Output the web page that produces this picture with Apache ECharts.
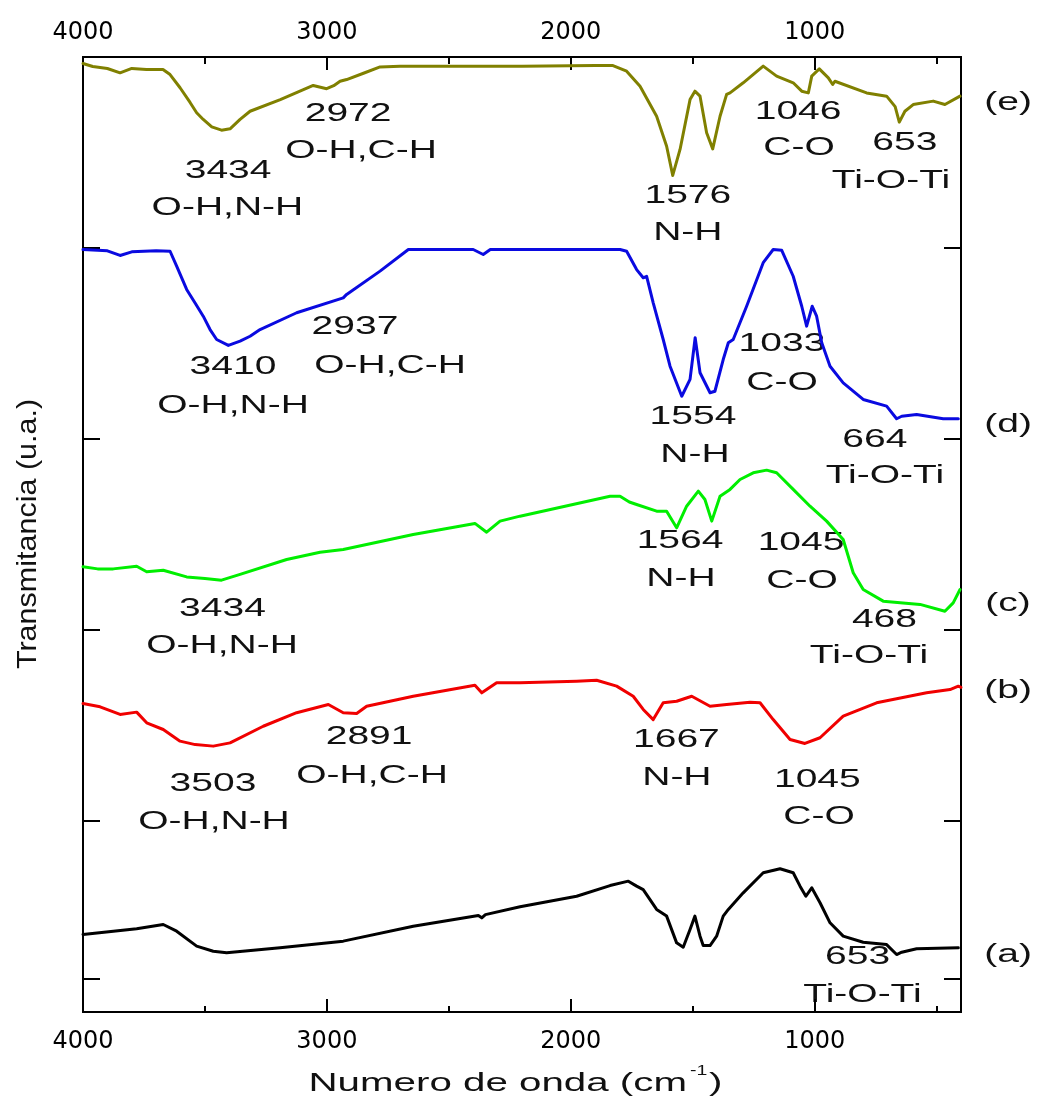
<!DOCTYPE html>
<html><head><meta charset="utf-8">
<script src="https://cdn.jsdelivr.net/npm/echarts@6/dist/echarts.min.js"></script>
<style>html,body{margin:0;padding:0;background:#fff}#c{width:1039px;height:1106px}</style>
</head><body><div id="c"></div>
<script>
// ---- data (wavenumber cm-1, transmittance in arbitrary offset units) ----
const majorTicks = [4000, 3000, 2000, 1000];
const minorTicks = [3500, 2500, 1500, 500];
const yTicks = [0.175, 1, 2, 3, 4];

const sampleE = [[4000,4.966],[3960,4.95],[3900,4.94],[3848,4.917],[3800,4.94],[3740,4.935],[3672,4.935],[3643,4.908],[3602,4.839],[3561,4.762],[3534,4.708],[3507,4.673],[3472,4.634],[3432,4.617],[3397,4.624],[3356,4.673],[3315,4.716],[3191,4.777],[3056,4.851],[3001,4.834],[2972,4.85],[2946,4.873],[2919,4.882],[2850,4.915],[2782,4.948],[2700,4.952],[2400,4.952],[2200,4.952],[1900,4.955],[1827,4.955],[1771,4.926],[1716,4.847],[1648,4.690],[1607,4.533],[1582,4.380],[1552,4.516],[1511,4.777],[1491,4.821],[1470,4.795],[1443,4.603],[1418,4.519],[1388,4.690],[1361,4.804],[1347,4.812],[1293,4.865],[1211,4.952],[1156,4.900],[1088,4.865],[1053,4.821],[1026,4.812],[1012,4.900],[981,4.938],[944,4.891],[926,4.856],[917,4.873],[787,4.812],[705,4.795],[670,4.74],[653,4.659],[630,4.716],[596,4.751],[514,4.769],[466,4.751],[404,4.795]];

const sampleD = [[4000,3.992],[3900,3.985],[3848,3.961],[3800,3.98],[3700,3.985],[3643,3.983],[3616,3.905],[3575,3.783],[3541,3.713],[3507,3.643],[3479,3.573],[3452,3.521],[3404,3.490],[3356,3.512],[3315,3.538],[3274,3.573],[3124,3.661],[2933,3.739],[2919,3.757],[2782,3.879],[2666,3.992],[2400,3.992],[2359,3.966],[2330,3.992],[1798,3.992],[1771,3.983],[1730,3.887],[1703,3.844],[1689,3.852],[1662,3.713],[1621,3.521],[1593,3.381],[1545,3.224],[1511,3.312],[1490,3.53],[1470,3.347],[1429,3.242],[1409,3.250],[1375,3.416],[1354,3.504],[1334,3.521],[1279,3.695],[1211,3.923],[1170,3.992],[1135,3.988],[1088,3.852],[1053,3.695],[1033,3.591],[1010,3.695],[992,3.643],[971,3.504],[937,3.381],[883,3.294],[801,3.207],[705,3.172],[664,3.106],[643,3.119],[582,3.128],[473,3.106],[411,3.106]];

const sampleC = [[4000,2.331],[3940,2.32],[3876,2.320],[3780,2.334],[3739,2.305],[3671,2.313],[3575,2.278],[3500,2.27],[3432,2.261],[3356,2.291],[3165,2.369],[3028,2.407],[2933,2.421],[2646,2.500],[2393,2.558],[2345,2.512],[2290,2.570],[2208,2.596],[1839,2.700],[1798,2.70],[1760,2.67],[1730,2.657],[1648,2.622],[1607,2.622],[1566,2.535],[1525,2.648],[1477,2.727],[1450,2.683],[1422,2.570],[1388,2.700],[1347,2.736],[1306,2.788],[1252,2.823],[1197,2.837],[1156,2.823],[1088,2.736],[1019,2.648],[951,2.570],[883,2.474],[842,2.300],[801,2.212],[719,2.151],[568,2.134],[466,2.098],[432,2.142],[404,2.212]];

const sampleB = [[4000,1.615],[3930,1.598],[3848,1.558],[3780,1.570],[3739,1.514],[3671,1.479],[3602,1.418],[3540,1.40],[3466,1.392],[3397,1.409],[3261,1.496],[3124,1.567],[2994,1.610],[2933,1.567],[2878,1.563],[2837,1.601],[2646,1.653],[2393,1.711],[2365,1.671],[2304,1.724],[2208,1.724],[1976,1.732],[1894,1.737],[1812,1.706],[1744,1.653],[1703,1.584],[1662,1.531],[1621,1.619],[1566,1.627],[1504,1.653],[1429,1.601],[1361,1.610],[1265,1.622],[1224,1.619],[1170,1.531],[1101,1.427],[1040,1.406],[978,1.436],[883,1.549],[746,1.619],[541,1.671],[445,1.688],[411,1.706],[400,1.70]];

const sampleA = [[4000,0.406],[3780,0.436],[3671,0.458],[3616,0.423],[3534,0.345],[3466,0.318],[3411,0.310],[3192,0.336],[2933,0.371],[2646,0.449],[2379,0.505],[2365,0.493],[2350,0.51],[2208,0.551],[1976,0.606],[1839,0.662],[1764,0.685],[1730,0.659],[1703,0.641],[1648,0.537],[1607,0.502],[1566,0.362],[1539,0.339],[1511,0.432],[1491,0.502],[1470,0.397],[1457,0.348],[1429,0.348],[1402,0.397],[1375,0.502],[1354,0.537],[1293,0.624],[1211,0.729],[1142,0.750],[1088,0.729],[1060,0.659],[1036,0.606],[1012,0.650],[978,0.572],[937,0.467],[883,0.397],[801,0.365],[705,0.353],[664,0.301],[643,0.313],[582,0.331],[411,0.336]];

// peak annotations: [text, wavenumber, value]
const annotations = [
  ['2972',2913,4.702],['O-H,C-H',2860,4.510],['3434',3405,4.406],['O-H,N-H',3408,4.212],
  ['1576',1520,4.275],['N-H',1520,4.081],['1046',1068,4.715],['C-O',1064,4.526],
  ['653',630,4.552],['Ti-O-Ti',687,4.353],
  ['3410',3385,3.380],['O-H,N-H',3385,3.175],['2937',2885,3.589],['O-H,C-H',2741,3.385],
  ['1554',1499,3.118],['N-H',1491,2.919],['1033',1134,3.500],['C-O',1134,3.296],
  ['664',753,2.997],['Ti-O-Ti',712,2.809],
  ['3434',3428,2.113],['O-H,N-H',3430,1.916],['1564',1552,2.469],['N-H',1548,2.270],
  ['1045',1056,2.458],['C-O',1052,2.259],['468',714,2.055],['Ti-O-Ti',777,1.866],
  ['3503',3467,1.196],['O-H,N-H',3463,0.995],['2891',2827,1.442],['O-H,C-H',2815,1.238],
  ['1667',1567,1.427],['N-H',1565,1.228],['1045',989,1.217],['C-O',982,1.024],
  ['653',824,0.291],['Ti-O-Ti',804,0.092]
];
const sampleLabels = [['(e)',207,4.762],['(d)',207,3.076],['(c)',207,2.139],['(b)',207,1.683],['(a)',207,0.301]];

const samples = [
  {name:'(e)', data:sampleE, color:'#808000'},
  {name:'(d)', data:sampleD, color:'#0a0ae0'},
  {name:'(c)', data:sampleC, color:'#00ee00'},
  {name:'(b)', data:sampleB, color:'#f00000'},
  {name:'(a)', data:sampleA, color:'#000000'}
];

// ---- chart ----
const chart = echarts.init(document.getElementById('c'), null, {renderer:'canvas'});
const axisLine = {show:true, onZero:false, lineStyle:{color:'#000', width:2}};
const tickStyle = {color:'#000', width:2};
const labelStyle = {color:'#000', fontFamily:'DejaVu Sans', fontSize:24, formatter: v => String(v)};
const xBase = {type:'value', min:400, max:4000, inverse:true, splitLine:{show:false}, axisLine};

const option = {
  animation:false,
  backgroundColor:'#fff',
  grid:{left:83, right:78, top:57, bottom:94, outerBoundsMode:'none', containLabel:false},
  xAxis:[
    Object.assign({}, xBase, {position:'bottom', axisTick:{inside:true, length:13, customValues:majorTicks, lineStyle:tickStyle}, axisLabel:Object.assign({customValues:majorTicks, margin:18}, labelStyle)}),
    Object.assign({}, xBase, {position:'bottom', axisTick:{inside:true, length:6, customValues:minorTicks, lineStyle:tickStyle}, axisLabel:{show:false}}),
    Object.assign({}, xBase, {position:'top', axisTick:{inside:true, length:13, customValues:majorTicks, lineStyle:tickStyle}, axisLabel:Object.assign({customValues:majorTicks, margin:12}, labelStyle)}),
    Object.assign({}, xBase, {position:'top', axisTick:{inside:true, length:7, customValues:minorTicks, lineStyle:tickStyle}, axisLabel:{show:false}})
  ],
  yAxis:[
    {type:'value', min:0, max:5, position:'left', axisLine, splitLine:{show:false}, axisTick:{inside:true, length:17, customValues:yTicks, lineStyle:tickStyle}, axisLabel:{show:false}},
    {type:'value', min:0, max:5, position:'right', axisLine, splitLine:{show:false}, axisTick:{inside:true, length:17, customValues:yTicks, lineStyle:tickStyle}, axisLabel:{show:false}}
  ],
  series: samples.map(s => ({
    type:'line', name:s.name, data:s.data, xAxisIndex:0, yAxisIndex:0,
    showSymbol:false, symbol:'none', smooth:false, clip:true,
    lineStyle:{color:s.color, width:3, join:'round', cap:'round'}, itemStyle:{color:s.color}
  }))
};
chart.setOption(option);

const font = 'Liberation Sans, Arial, sans-serif';
const graphics = [];
function txt(t, x, y, size, sx, align, extra) {
  return Object.assign({type:'text', x:x, y:y, scaleX:sx, silent:true,
    style:{text:t, fontSize:size, fontFamily:font, fill:'#111',
      align:align, verticalAlign:'middle', textAlign:align, textVerticalAlign:'middle'}}, extra || {});
}
function addText(t, w, v, size, sx) {
  const p = chart.convertToPixel({xAxisIndex:0, yAxisIndex:0}, [w, v]);
  graphics.push(txt(t, p[0], p[1], size, sx, 'center'));
}
annotations.forEach(a => addText(a[0], a[1], a[2], 26, 1.5));
sampleLabels.forEach(a => addText(a[0], a[1], a[2], 26, 1.5));

// axis titles
graphics.push(txt('Numero de onda (cm', 687, 1084, 26, 1.55, 'right'));
graphics.push(txt('-1', 690, 1071, 15, 1.3, 'left'));
graphics.push(txt(')', 709, 1084, 26, 1.55, 'left'));
graphics.push(txt('Transmitancia (u.a.)', 28, 534, 28, 1.09, 'center', {rotation:Math.PI/2}));

chart.setOption({graphic:graphics});
</script></body></html>
